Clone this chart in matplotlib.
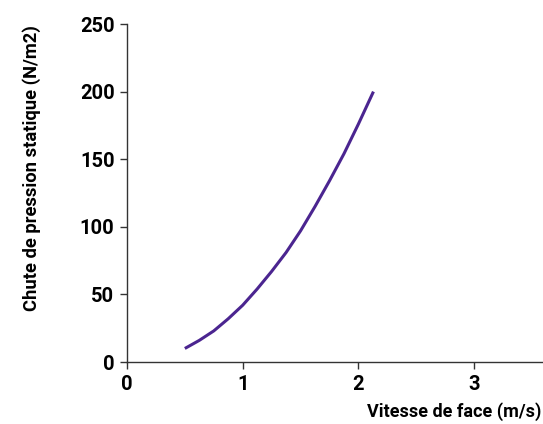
import numpy as np
import matplotlib
matplotlib.use("Agg")
import matplotlib.pyplot as plt

# vitesse de face (m/s) et chute de pression statique (N/m2)
vitesse = [0.5, 0.625, 0.75, 0.875, 1.0, 1.125, 1.25, 1.375, 1.5, 1.625,
           1.75, 1.875, 2.0, 2.13]
pression = [10, 16, 23, 32, 42, 54, 67, 81, 97, 115, 134, 154, 176, 200]

x_ticks = [0, 1, 2, 3]
y_ticks = [0, 50, 100, 150, 200, 250]

plt.rcParams['font.family'] = ['Roboto', 'DejaVu Sans']

fig = plt.figure(figsize=(5.43, 4.24), dpi=100)
# l'axe x sort du cadre a droite, comme dans l'original
ax = fig.add_axes([127/543, 62/424, 4*115.7/543, 338/424])

ax.plot(vitesse, pression, color='#4b2590', lw=2.2, solid_capstyle='butt',
        solid_joinstyle='round')

ax.set_xlim(0, 4)
ax.set_ylim(0, 250)
ax.set_xticks(x_ticks)
ax.set_yticks(y_ticks)

for s in ['top', 'right']:
    ax.spines[s].set_visible(False)
for s in ['left', 'bottom']:
    ax.spines[s].set_color('#333333')
    ax.spines[s].set_linewidth(1.0)

ax.tick_params(axis='both', direction='out', length=5, width=1, color='#333333',
               labelsize=14.5, pad=4)
for lab in ax.get_xticklabels() + ax.get_yticklabels():
    lab.set_fontweight('bold')

ax.set_ylabel('Chute de pression statique (N/m2)', fontsize=13.2, fontweight='bold')
ax.yaxis.set_label_coords(-86/463, 0.575)

# libelle x colle au bord droit, sans le couper
fig.text(541/543, 1 - 412/424, 'Vitesse de face (m/s)', fontsize=13,
         fontweight='bold', ha='right', va='center')

fig.savefig('out.png', dpi=100)
